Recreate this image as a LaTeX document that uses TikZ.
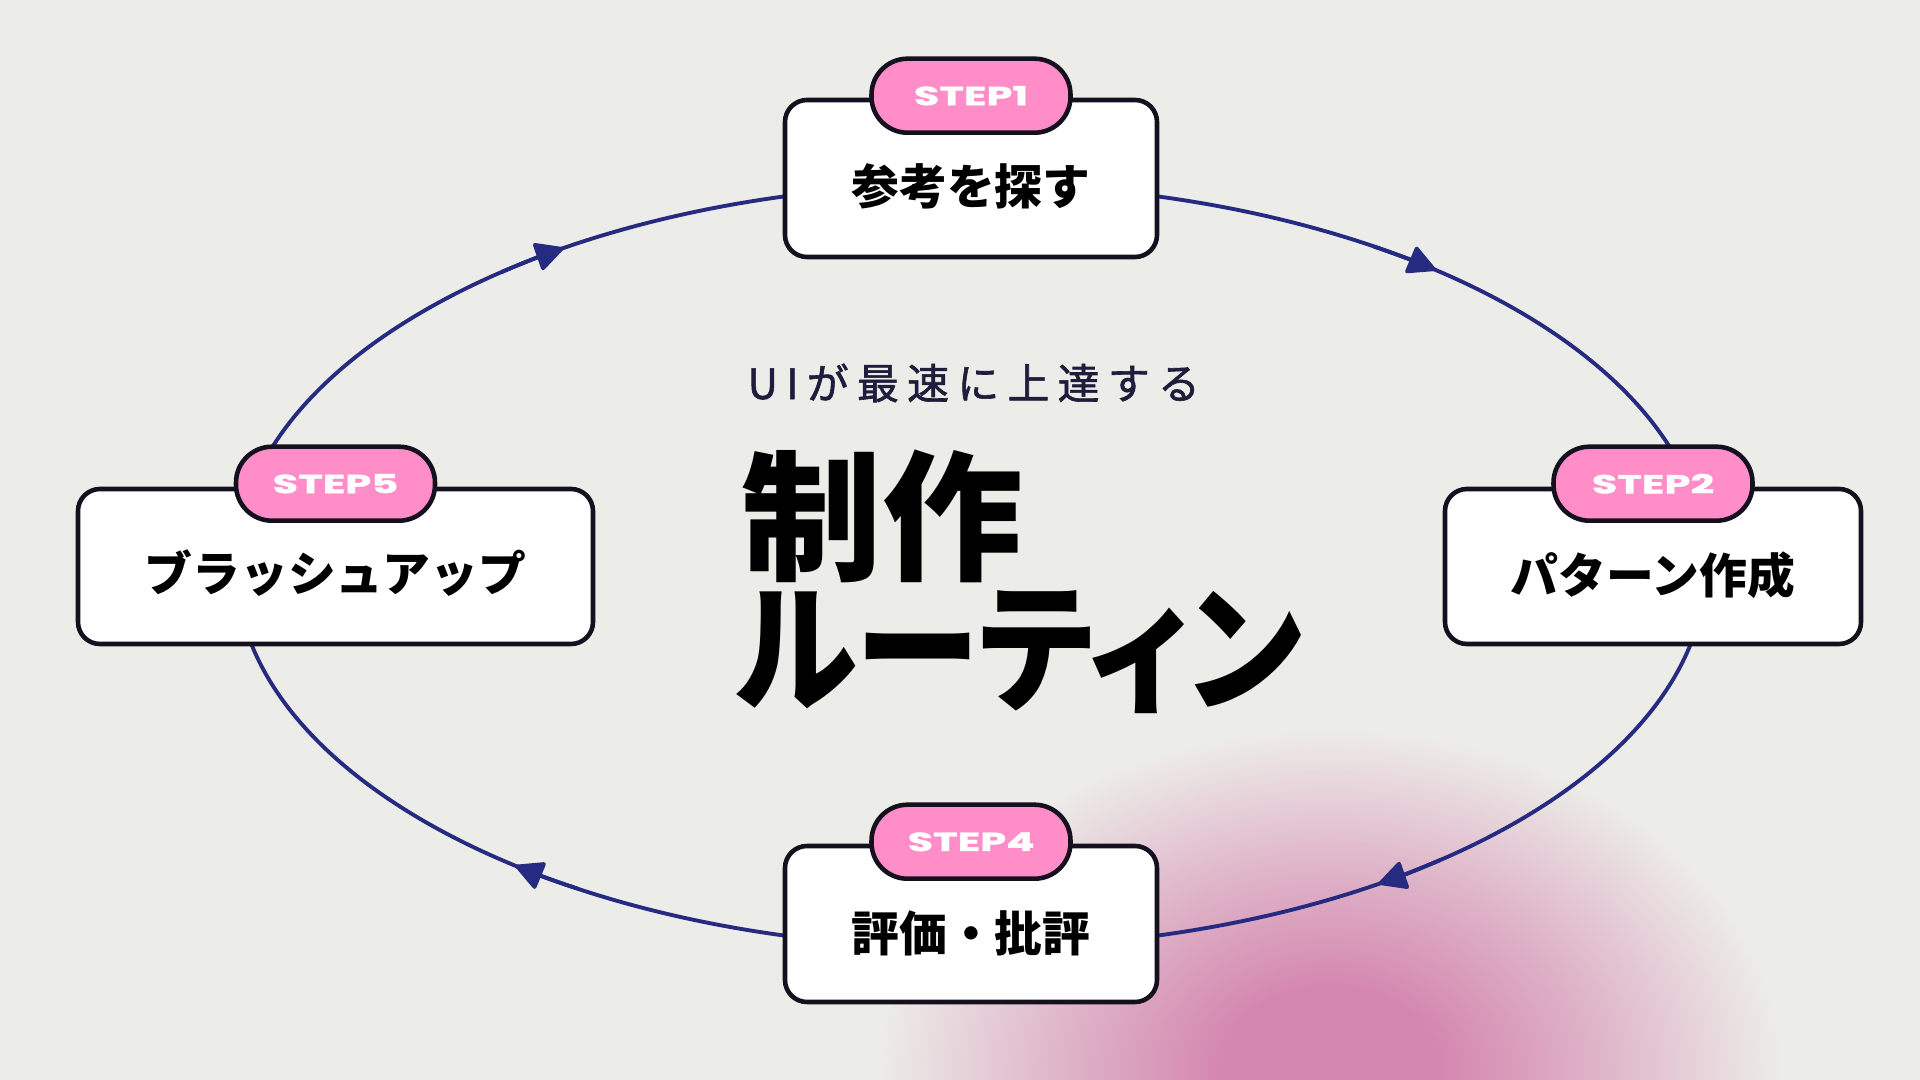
\documentclass[tikz,border=0pt]{standalone}
\usepackage{fontspec}
\usetikzlibrary{arrows.meta}
\setmainfont{Noto Sans CJK JP}
\newfontfamily\jpfont{Noto Sans CJK JP}
\newfontfamily\kanafont{Noto Sans CJK JP}[RawFeature=+palt,FakeStretch=0.89]
\newfontfamily\subfont{Noto Sans CJK JP}[LetterSpace=20,FakeBold=1.5]
\newfontfamily\stepfont{Poppins}[FakeStretch=1.6,FakeBold=1.5]
\definecolor{bgc}{RGB}{236,236,232}
\definecolor{ink}{RGB}{20,16,30}
\definecolor{pill}{RGB}{255,142,200}
\definecolor{navy}{RGB}{38,42,128}
\definecolor{subink}{RGB}{30,30,60}
\definecolor{blobpink}{RGB}{212,135,175}
\colorlet{blobmid}{blobpink!55!bgc}
\pgfdeclareradialshading{blob}{\pgfpoint{0bp}{0bp}}{color(0bp)=(blobpink); color(6bp)=(blobpink); color(15bp)=(blobmid); color(25bp)=(bgc); color(50bp)=(bgc)}

\begin{document}
\begin{tikzpicture}[x=1cm,y=1cm,
    stepbox/.style={draw=ink, line width=1.3pt, fill=white, rounded corners=0.22cm, minimum height=1.55cm, inner sep=0pt},
    steppill/.style={draw=ink, line width=1.3pt, fill=pill, rounded corners=0.36cm, minimum width=1.99cm, minimum height=0.74cm, inner sep=0pt, text=white, font=\stepfont\bfseries\fontsize{7.4}{8}\selectfont},
    steptext/.style={inner sep=0pt, text=black, font=\jpfont\bfseries\fontsize{13.6}{16}\selectfont},
    title/.style={anchor=west, inner sep=0pt, text=black, font=\jpfont\bfseries\fontsize{40}{40}\selectfont},
    loop/.style={draw=navy, line width=1.1pt},
    looptip/.style={loop, -{Triangle[length=0.3cm, width=0.3cm, round]}}]
  \useasboundingbox (0,0) rectangle (19.2,10.8);
  \fill[bgc] (0,0) rectangle (19.2,10.8);
  \begin{scope}
    \clip (0,0) rectangle (19.2,10.8);
    \shade[shading=blob] (13.3,0.1) ellipse (4.5 and 3.4);
  \end{scope}

  % loop
  \coordinate (ctr) at (9.71,5.14);
  \draw[loop] (ctr) ellipse (7.35 and 3.82);
  \foreach \a in {125.7,52.8,-54.3,-126.3}
    \draw[looptip] (ctr) ++(\a+4:7.35 and 3.82) arc[start angle=\a+4, end angle=\a-2, x radius=7.35, y radius=3.82];

  % steps
  \node[stepbox, minimum width=3.72cm, minimum height=1.57cm] (s1) at (9.71,9.015) {};
  \node[steptext] (t1) at ([yshift=-0.08cm]s1.center) {参考を探す};
  \node[steppill] (p1) at ([yshift=0.02cm]s1.north) {STEP1};

  \node[stepbox, minimum width=4.16cm] (s2) at (16.53,5.135) {};
  \node[steptext] (t2) at ([yshift=-0.09cm]s2.center) {パターン作成};
  \node[steppill] (p2) at ([yshift=0.03cm]s2.north) {STEP2};

  \node[stepbox, minimum width=3.72cm, minimum height=1.56cm] (s4) at (9.71,1.56) {};
  \node[steptext] (t4) at ([yshift=-0.09cm]s4.center) {評価・批評};
  \node[steppill] (p4) at ([yshift=0.02cm]s4.north) {STEP4};

  \node[stepbox, minimum width=5.15cm] (s5) at (3.355,5.135) {};
  \node[steptext] (t5) at ([yshift=-0.07cm]s5.center) {ブラッシュアップ};
  \node[steppill] (p5) at ([yshift=0.03cm]s5.north) {STEP5};

  % title
  \node[anchor=west, inner sep=0pt, text=subink, font=\subfont\fontsize{11.9}{14}\selectfont] (sub) at (7.47,6.97) {UIが最速に上達する};
  \node[title] (ttl1) at (7.41,5.64) {制作};
  \node[title, font=\kanafont\bfseries\fontsize{40}{40}\selectfont] (ttl2) at (7.35,4.28) {ルーティン};
\end{tikzpicture}
\end{document}
